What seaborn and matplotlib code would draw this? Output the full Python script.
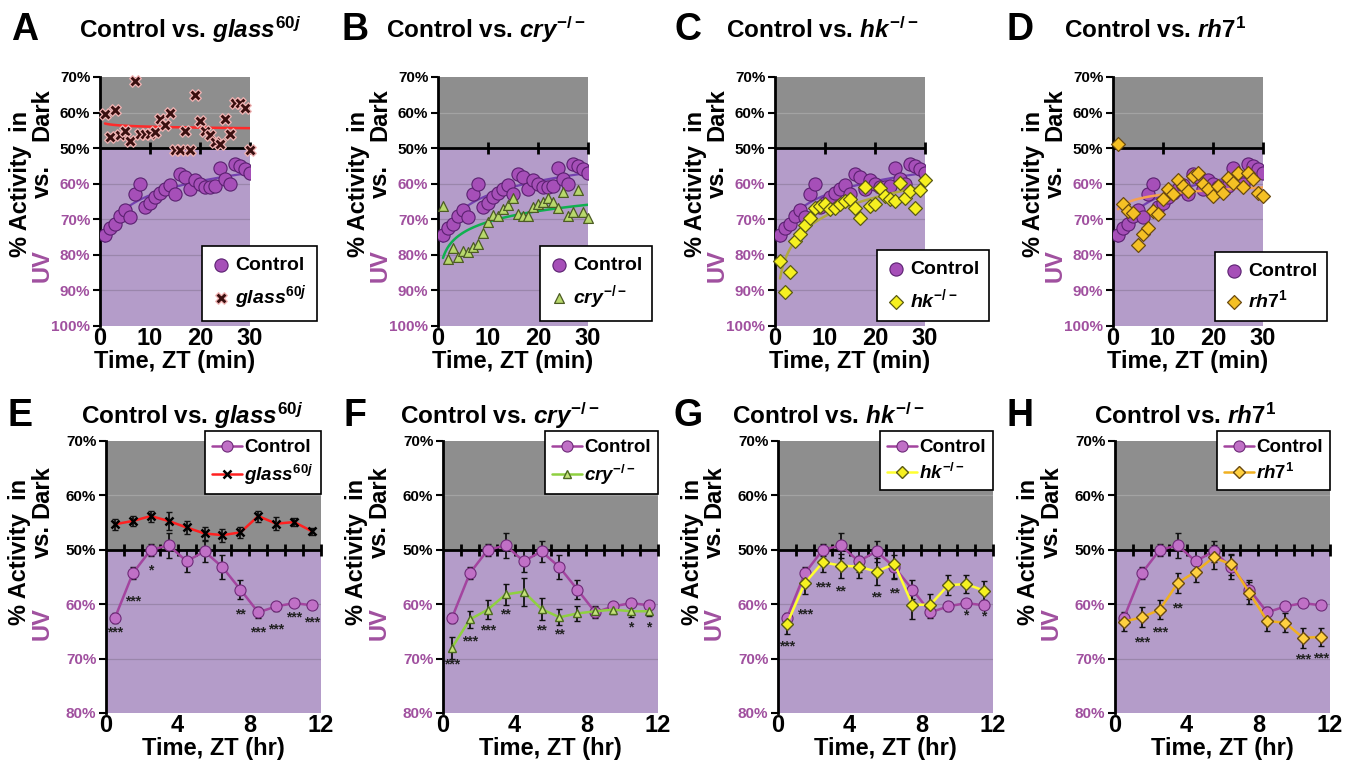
import numpy as np
import pandas as pd
import matplotlib
matplotlib.use("Agg")
import matplotlib.pyplot as plt
import matplotlib.transforms as mtransforms
import seaborn as sns

# ---- data: minutes after lights on (top row) ----
minutes = list(range(1, 31))
ctrl_min = [74.4, 72.5, 71.2, 69.0, 67.5, 69.4, 62.8, 60.0, 66.5, 65.3, 63.8, 62.5, 61.5, 60.3, 62.8,
            57.3, 58.1, 61.6, 59.0, 60.0, 61.0, 60.8, 60.6, 55.5, 58.8, 60.2, 54.5, 55.1, 55.9, 57.0]
glass_min = [40.4, 47.0, 39.3, 46.2, 45.3, 48.1, 31.2, 45.9, 45.9, 45.9, 45.6, 41.8, 43.4, 40.2, 50.6,
             50.6, 45.3, 50.6, 35.0, 42.3, 45.3, 46.2, 48.4, 48.7, 41.8, 45.9, 37.4, 37.4, 38.7, 50.6]
cry_min = [66.4, 81.2, 78.2, 80.5, 78.9, 79.3, 77.7, 77.0, 73.9, 70.9, 68.8, 69.0, 67.1, 66.0, 64.1,
           68.5, 69.0, 69.0, 66.6, 65.7, 65.2, 64.1, 65.2, 66.9, 62.2, 69.0, 68.0, 61.7, 68.0, 69.7]
hk_min = [81.6, 90.4, 84.8, 76.1, 74.1, 71.6, 69.5, 66.9, 66.4, 65.6, 67.2, 66.7, 65.8, 64.8, 64.4,
          66.7, 69.5, 60.9, 66.3, 65.6, 61.3, 63.4, 64.4, 65.0, 59.7, 63.9, 62.0, 66.7, 61.8, 59.0]
rh7_min = [48.7, 65.6, 67.7, 68.1, 77.1, 74.2, 72.4, 67.7, 68.6, 64.4, 61.4, 63.0, 59.0, 60.6, 62.0,
           57.8, 57.1, 60.0, 61.6, 63.4, 60.6, 62.5, 58.3, 59.7, 56.9, 60.9, 57.1, 58.7, 62.5, 63.4]

# ---- data: hourly means +/- sem (bottom row) ----
hours = [0.5, 1.5, 2.5, 3.5, 4.5, 5.5, 6.5, 7.5, 8.5, 9.5, 10.5, 11.5]
ctrl_hr = [62.5, 54.3, 50.0, 49.2, 52.1, 50.3, 53.2, 57.3, 61.5, 60.4, 59.8, 60.2]
ctrl_err = [0.9, 1.1, 1.1, 2.3, 2.0, 2.0, 2.2, 1.8, 1.0, 0.8, 0.6, 0.5]
glass_hr = [45.3, 44.7, 43.8, 44.7, 45.9, 47.0, 47.3, 46.8, 43.8, 45.2, 44.9, 46.6]
glass_err = [1.0, 1.0, 1.0, 1.7, 1.2, 1.2, 1.2, 1.0, 1.0, 1.2, 0.8, 0.6]
cry_hr = [68.0, 62.8, 61.0, 58.2, 57.7, 60.9, 62.4, 61.7, 61.3, 61.0, 61.3, 61.3]
cry_err = [2.0, 1.5, 1.8, 2.0, 2.6, 2.0, 1.5, 1.3, 1.0, 0.8, 1.0, 0.8]
hk_hr = [63.6, 56.1, 52.3, 52.9, 53.1, 54.0, 52.6, 60.1, 60.1, 56.5, 56.3, 57.5]
hk_err = [1.8, 2.0, 1.7, 2.2, 2.0, 2.5, 2.6, 2.6, 2.0, 1.8, 1.6, 1.8]
rh7_hr = [63.2, 62.4, 61.0, 56.1, 54.0, 51.4, 52.7, 57.9, 63.1, 63.4, 66.2, 66.0]
rh7_err = [1.8, 1.8, 1.8, 1.8, 2.0, 2.2, 2.0, 2.0, 1.8, 1.8, 1.8, 1.6]

# significance marks (hour, y, text)
stars_E = [(0.5, 65.2, '***'), (1.5, 59.5, '***'), (2.5, 53.8, '*'), (7.5, 61.9, '**'),
           (8.5, 65.2, '***'), (9.5, 64.6, '***'), (10.5, 62.5, '***'), (11.5, 63.4, '***')]
stars_F = [(0.5, 71.0, '***'), (1.5, 66.8, '***'), (2.5, 64.8, '***'), (3.5, 61.9, '**'),
           (5.5, 64.9, '**'), (6.5, 65.5, '**'), (10.5, 64.3, '*'), (11.5, 64.3, '*')]
stars_G = [(0.5, 67.7, '***'), (1.5, 61.8, '***'), (2.5, 57.0, '***'), (3.5, 57.6, '**'),
           (5.5, 58.8, '**'), (6.5, 58.1, '**'), (10.5, 62.0, '*'), (11.5, 62.2, '*')]
stars_H = [(1.5, 67.1, '***'), (2.5, 65.2, '***'), (3.5, 60.7, '**'),
           (10.5, 70.1, '***'), (11.5, 69.9, '***')]

GREY = '#8e8e8e'
PURPLE = '#b49cc9'
UVTXT = '#a0509f'

sns.set_theme(style='white')
plt.rcParams['font.family'] = ['Liberation Sans', 'DejaVu Sans']
plt.rcParams['mathtext.fontset'] = 'custom'
plt.rcParams['mathtext.it'] = 'Liberation Sans:italic:bold'
plt.rcParams['mathtext.rm'] = 'Liberation Sans:bold'
plt.rcParams['mathtext.bf'] = 'Liberation Sans:bold'
plt.rcParams['text.color'] = 'black'
plt.rcParams['axes.labelcolor'] = 'black'
plt.rcParams['xtick.color'] = 'black'
plt.rcParams['ytick.color'] = 'black'

W, H = 1357, 766
fig = plt.figure(figsize=(W / 100, H / 100), dpi=100)


def add_axes_px(left, top, width, height):
    return fig.add_axes([left / W, 1 - (top + height) / H, width / W, height / H])


def style_axes(ax, ymax, xmax, xticks, marks, xlabel):
    ax.set_xlim(0, xmax)
    ax.set_ylim(ymax, 30)
    ax.axhspan(30, 50, color=GREY, lw=0, zorder=0)
    ax.axhspan(50, ymax, color=PURPLE, lw=0, zorder=0)
    for v in range(40, ymax, 10):
        if v != 50:
            ax.axhline(v, color='#a3a3a3' if v < 50 else '#9a86ab', lw=0.9, zorder=0.5)
    ax.axhline(50, color='black', lw=2, zorder=3)
    ax.plot(marks, [50] * len(marks), ls='none', marker='|', ms=9, mew=2,
            color='black', zorder=3, clip_on=False)
    yt = list(range(30, ymax + 1, 10))
    ax.set_yticks(yt)
    ax.set_yticklabels([f"{100 - v if v < 50 else v}%" for v in yt])
    for lab, v in zip(ax.get_yticklabels(), yt):
        lab.set_color('black' if v <= 50 else UVTXT)
        lab.set_fontweight('bold')
    ax.tick_params(axis='y', labelsize=11, length=5, width=1.5, direction='out', pad=2, left=True)
    ax.set_xticks(xticks)
    ax.set_xticklabels([str(t) for t in xticks])
    ax.tick_params(axis='x', labelsize=17, length=0, pad=1)
    for lab in ax.get_xticklabels():
        lab.set_fontweight('bold')
    for s in ['top', 'right', 'bottom']:
        ax.spines[s].set_visible(False)
    ax.spines['left'].set_color('black')
    ax.spines['left'].set_linewidth(2)
    ax.set_xlabel(xlabel, fontsize=17, fontweight='bold', labelpad=0)
    ax.set_ylabel('')
    ax.grid(False)


def add_ylabel(ax, x1, x2, y1, ydark, yvs, yuv):
    tr = mtransforms.blended_transform_factory(ax.transAxes, ax.transData)
    kw = dict(rotation=90, ha='center', va='center', fontsize=17, fontweight='bold',
              transform=tr, clip_on=False)
    ax.text(x1, y1, '% Activity  in', color='black', **kw)
    ax.text(x2, ydark, 'Dark', color='black', **kw)
    ax.text(x2, yvs, 'vs.', color='black', **kw)
    ax.text(x2, yuv, 'UV', color=UVTXT, **kw)


def title_px(x, y, letter, lx, title):
    fig.text(lx / W, 1 - y / H, letter, fontsize=27, fontweight='bold', ha='center', va='center')
    fig.text(x / W, 1 - y / H, title, fontsize=17.5, fontweight='bold', ha='center', va='center')


def frame_legend(leg):
    leg.get_frame().set_edgecolor('black')
    leg.get_frame().set_linewidth(1.2)
    leg.get_frame().set_facecolor('white')
    leg.get_frame().set_alpha(1)
    leg.set_zorder(10)


mutants = [
    ('A', 'E', r'$glass^{60j}$', glass_min, glass_hr, glass_err, stars_E,
     dict(marker='X', fc='#3a1010', ec='#f3b4b4', line='#ff2a2a', hline='#ff2020', hmk='x', hfc='black', hec='black')),
    ('B', 'F', r'$cry^{-/-}$', cry_min, cry_hr, cry_err, stars_F,
     dict(marker='^', fc='#b8d86c', ec='#4c5c24', line='#10b050', hline='#8fd040', hmk='^', hfc='#c4e27a', hec='#4c6a20')),
    ('C', 'G', r'$hk^{-/-}$', hk_min, hk_hr, hk_err, stars_G,
     dict(marker='D', fc='#f6f020', ec='#5a5a14', line='#b0a840', hline='#ffff30', hmk='D', hfc='#f6f020', hec='#5a5a14')),
    ('D', 'H', r'$rh7^{1}$', rh7_min, rh7_hr, rh7_err, stars_H,
     dict(marker='D', fc='#f5c024', ec='#6a4a10', line='#f5a050', hline='#f0b020', hmk='D', hfc='#ffd040', hec='#6a4a10')),
]

top_left = [100, 438, 775, 1113]
bot_left = [106, 443, 778, 1115]
letter_x = [25, 355, 688, 1020]
top_title_x = [190, 486, 822, 1155]
bot_title_x = [192, 500, 828, 1185]

for i, (lt, lb, name, ymin_vals, yhr, yerr, stars, st) in enumerate(mutants):
    # ---------- top row: minutes ----------
    ax = add_axes_px(top_left[i], 77, 150, 249)
    dfm = pd.DataFrame({'t': minutes, 'ctrl': ctrl_min, 'mut': ymin_vals})
    sns.regplot(data=dfm, x='t', y='ctrl', logx=True, scatter=False, ci=None, ax=ax,
                line_kws=dict(color='#7440b0', lw=1.6, zorder=2))
    sns.regplot(data=dfm, x='t', y='mut', logx=True, scatter=False, ci=None, ax=ax,
                line_kws=dict(color=st['line'], lw=1.8, zorder=4))
    sns.scatterplot(data=dfm, x='t', y='ctrl', ax=ax, marker='o', s=90, color='#a64fb8',
                    edgecolor='#5a2070', linewidth=0.8, zorder=3, label='Control')
    sns.scatterplot(data=dfm, x='t', y='mut', ax=ax, marker=st['marker'],
                    s=50 if st['marker'] != 'X' else 70, color=st['fc'], edgecolor=st['ec'],
                    linewidth=0.9, zorder=5, label=name, clip_on=False)
    style_axes(ax, 100, 30, [0, 10, 20, 30], [10, 20, 30], 'Time, ZT (min)')
    leg = ax.legend(loc='lower left', bbox_to_anchor=(0.68, 0.02), frameon=True, fancybox=False,
                    prop=dict(weight='bold', size=14), handletextpad=0.2, borderpad=0.5,
                    labelspacing=0.5, handlelength=1.0, borderaxespad=0)
    frame_legend(leg)
    add_ylabel(ax, -0.533, -0.387, 60.0, 40.5, 59.5, 83.0)
    title_px(top_title_x[i], 30, lt, letter_x[i], 'Control vs. ' + name)

    # ---------- bottom row: hours ----------
    ax = add_axes_px(bot_left[i], 441, 215, 272)
    dfh = pd.DataFrame({'t': hours, 'ctrl': ctrl_hr, 'ce': ctrl_err, 'mut': yhr, 'me': yerr})
    ax.errorbar(dfh['t'], dfh['mut'], yerr=dfh['me'], fmt='none', ecolor='#111111',
                elinewidth=1.3, capsize=2, zorder=3)
    ax.errorbar(dfh['t'], dfh['ctrl'], yerr=dfh['ce'], fmt='none', ecolor='#111111',
                elinewidth=1.3, capsize=2, zorder=3)
    sns.lineplot(data=dfh, x='t', y='ctrl', ax=ax, color='#a3449f', lw=1.8, marker='o',
                 markersize=8, markerfacecolor='#c070c6', markeredgecolor='#6e2a78',
                 markeredgewidth=0.8, zorder=4, label='Control')
    sns.lineplot(data=dfh, x='t', y='mut', ax=ax, color=st['hline'], lw=1.8, marker=st['hmk'],
                 markersize=6, markerfacecolor=st['hfc'],
                 markeredgecolor=st['hec'], markeredgewidth=1.0 if st['hmk'] != 'x' else 1.8,
                 zorder=5, label=name)
    for hx, hy, txt in stars:
        ax.text(hx, hy, txt, ha='center', va='center', fontsize=10, fontweight='bold',
                color='#222222', zorder=6)
    style_axes(ax, 80, 12, [0, 4, 8, 12], list(range(1, 13)), 'Time, ZT (hr)')
    leg = ax.legend(loc='upper right', bbox_to_anchor=(1.0, 1.035), frameon=True, fancybox=False,
                    prop=dict(weight='bold', size=13.5), handletextpad=0.1, borderpad=0.4,
                    labelspacing=0.35, handlelength=1.6, borderaxespad=0)
    frame_legend(leg)
    add_ylabel(ax, -0.40, -0.298, 50.4, 39.3, 48.5, 63.6)
    title_px(bot_title_x[i], 416, lb, letter_x[i] if i else 20, 'Control vs. ' + name)

fig.savefig('out.png', dpi=100)
